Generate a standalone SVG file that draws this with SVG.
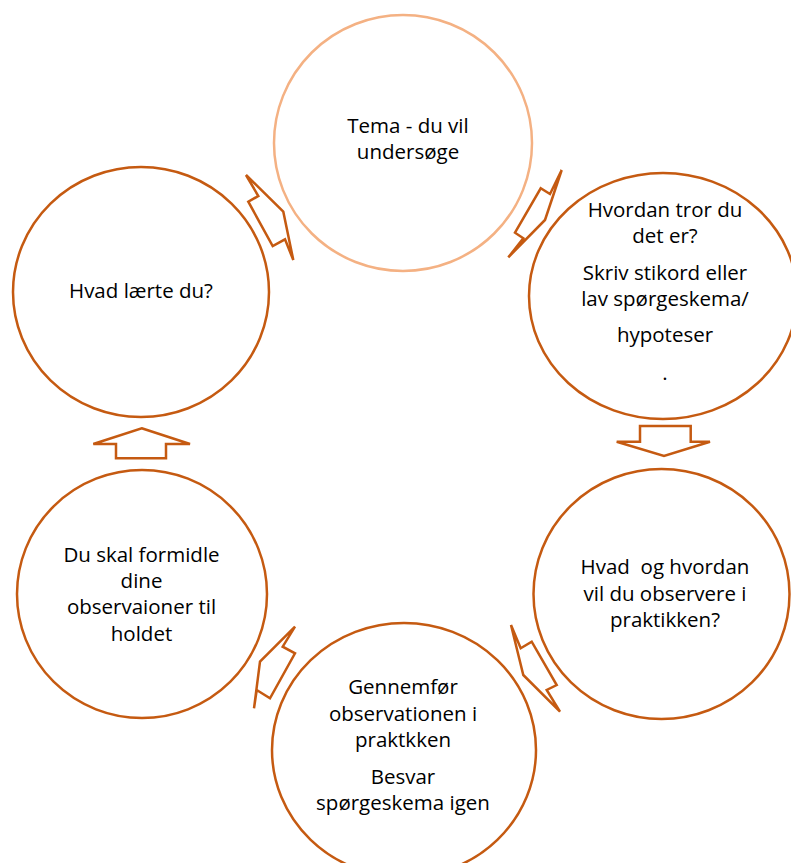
<svg xmlns="http://www.w3.org/2000/svg" width="791" height="863" viewBox="0 0 791 863">
<style>
.c{fill:#FFFFFF;stroke:#C55A11;stroke-width:2.5}
.cl{fill:#FFFFFF;stroke:#F4B183;stroke-width:2.5}
.a{fill:#FFFFFF;stroke:#C55A11;stroke-width:2.5;stroke-linejoin:miter}
text{font-family:"Open Sans","Liberation Sans",sans-serif;font-size:20.5px;fill:#000000;text-anchor:middle;white-space:pre}
</style>
<rect width="791" height="863" fill="#FFFFFF"/>
<g id="connectors">
<polygon class="a" points="246,175 283.3,211.7 293.3,260 285,239.3 272.7,246 248.3,201.7 258.3,196"/>
<polygon class="a" points="561.7,170 545,220 508.3,257.3 523.3,238.3 515,232.7 540.7,188.3 550,194"/>
<polygon class="a" points="640,426 690.7,426 690.7,441.7 710,441.7 664,456 616.7,441.7 640,441.7"/>
<polygon class="a" points="511,625 520.7,648.3 531.7,641.7 556.7,685 546.7,690 560,711.7 523.3,675"/>
<polygon class="a" points="295,626.7 282.7,646.7 295,653.3 270,698.3 256.7,690 254,708.3 260,661.7"/>
<polygon class="a" points="141.7,428.3 190,444 166,444 166,458.3 116,458.3 116,444 93.3,444"/>
</g>
<g id="node-tema">
<ellipse class="cl" cx="403" cy="143" rx="129" ry="128"/>
<text x="408" y="133">Tema - du vil</text>
<text x="408" y="159">undersøge</text>
</g>
<g id="node-hvordan">
<ellipse class="c" cx="663" cy="296" rx="134" ry="123"/>
<text x="665" y="217">Hvordan tror du</text>
<text x="665" y="243">det er?</text>
<text x="665" y="280">Skriv stikord eller</text>
<text x="665" y="306">lav spørgeskema/</text>
<text x="665" y="342">hypoteser</text>
<text x="665" y="380">.</text>
</g>
<g id="node-observere">
<ellipse class="c" cx="661.5" cy="594" rx="128" ry="125"/>
<text x="665" y="574">Hvad  og hvordan</text>
<text x="665" y="601">vil du observere i</text>
<text x="665" y="627">praktikken?</text>
</g>
<g id="node-gennemfoer">
<ellipse class="c" cx="404" cy="750" rx="132" ry="127"/>
<text x="403" y="694">Gennemfør</text>
<text x="403" y="721">observationen i</text>
<text x="403" y="747">praktkken</text>
<text x="403" y="784">Besvar</text>
<text x="403" y="810">spørgeskema igen</text>
</g>
<g id="node-formidle">
<ellipse class="c" cx="142" cy="594" rx="125" ry="124"/>
<text x="141.5" y="562">Du skal formidle</text>
<text x="141.5" y="588">dine</text>
<text x="141.5" y="614">observaioner til</text>
<text x="141.5" y="641">holdet</text>
</g>
<g id="node-laerte">
<ellipse class="c" cx="141" cy="292" rx="128" ry="125"/>
<text x="141" y="298">Hvad lærte du?</text>
</g>
</svg>
